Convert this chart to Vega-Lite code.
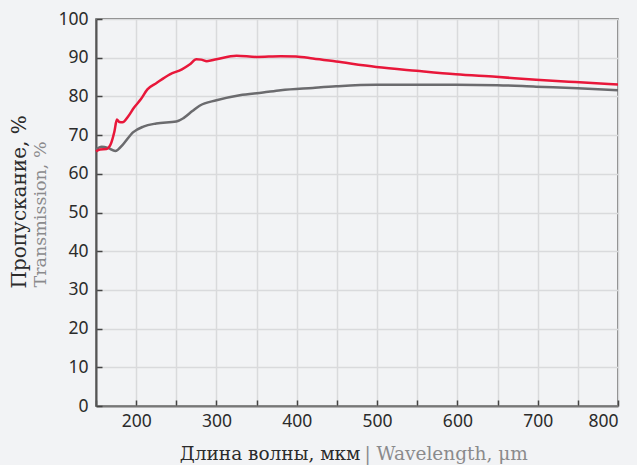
{
  "$schema": "https://vega.github.io/schema/vega-lite/v6.json",
  "width": 522,
  "height": 387,
  "autosize": {"type": "none"},
  "padding": {"left": 96, "top": 19, "right": 19, "bottom": 59},
  "background": "#f2f3f5",
  "config": {
    "view": {"stroke": "#555", "strokeWidth": 1.5},
    "axis": {
      "labelFont": "Noto Sans",
      "labelFontSize": 17.5,
      "labelColor": "#2b2b2b",
      "gridColor": "#d9dadc",
      "gridWidth": 1.5,
      "tickColor": "#444",
      "tickWidth": 1.5,
      "titleFont": "DejaVu Serif",
      "titleFontWeight": "normal"
    }
  },
  "datasets": {
    "red": [
      {"w": 150, "v": 65.8}, {"w": 155, "v": 66.3}, {"w": 163, "v": 66.4}, {"w": 168, "v": 67.5},
      {"w": 173, "v": 71.0}, {"w": 176, "v": 74.0}, {"w": 179, "v": 73.4}, {"w": 183, "v": 73.3},
      {"w": 190, "v": 74.8}, {"w": 197, "v": 77.0}, {"w": 206, "v": 79.3}, {"w": 214, "v": 81.8},
      {"w": 225, "v": 83.4}, {"w": 242, "v": 85.7}, {"w": 257, "v": 87.0}, {"w": 267, "v": 88.3},
      {"w": 275, "v": 89.6}, {"w": 281, "v": 89.5}, {"w": 288, "v": 89.1}, {"w": 300, "v": 89.6},
      {"w": 325, "v": 90.5}, {"w": 350, "v": 90.2}, {"w": 380, "v": 90.4}, {"w": 399, "v": 90.3},
      {"w": 420, "v": 89.8}, {"w": 449, "v": 89.0}, {"w": 499, "v": 87.6}, {"w": 549, "v": 86.6},
      {"w": 598, "v": 85.7}, {"w": 648, "v": 85.05}, {"w": 698, "v": 84.3}, {"w": 747, "v": 83.7},
      {"w": 800, "v": 83.1}
    ],
    "gray": [
      {"w": 150, "v": 66.3}, {"w": 157, "v": 67.0}, {"w": 165, "v": 66.7}, {"w": 174, "v": 65.9},
      {"w": 184, "v": 67.7}, {"w": 196, "v": 70.7}, {"w": 209, "v": 72.2}, {"w": 225, "v": 73.0},
      {"w": 250, "v": 73.5}, {"w": 259, "v": 74.4}, {"w": 270, "v": 76.2}, {"w": 279, "v": 77.6},
      {"w": 300, "v": 79.0}, {"w": 329, "v": 80.3}, {"w": 358, "v": 81.0}, {"w": 380, "v": 81.6},
      {"w": 420, "v": 82.2}, {"w": 449, "v": 82.6}, {"w": 499, "v": 83.0}, {"w": 598, "v": 83.0},
      {"w": 650, "v": 82.9}, {"w": 698, "v": 82.5}, {"w": 750, "v": 82.1}, {"w": 800, "v": 81.6}
    ]
  },
  "resolve": {"axis": {"x": "independent", "y": "independent"}},
  "layer": [
    {
      "data": {"name": "gray"},
      "mark": {"type": "line", "color": "#6b6b6e", "strokeWidth": 2.5, "interpolate": "monotone"},
      "encoding": {
        "x": {
          "field": "w", "type": "quantitative",
          "scale": {"domain": [150, 800], "nice": false, "zero": false},
          "axis": {
            "orient": "bottom",
            "values": [150, 200, 250, 300, 350, 400, 450, 500, 550, 600, 650, 700, 750, 800],
            "labelExpr": "datum.value % 100 === 0 ? datum.label : ''",
            "tickSize": -6,
            "labelPadding": 12,
            "domainColor": "#777",
            "domainWidth": 2,
            "grid": true,
            "title": "Длина волны, мкм",
            "titleFontSize": 18.5,
            "titleColor": "#2b2b2b",
            "titleAlign": "right",
            "titleAnchor": null,
            "titleX": 264,
            "titleY": 53,
            "titleBaseline": "alphabetic"
          }
        },
        "y": {
          "field": "v", "type": "quantitative",
          "scale": {"domain": [0, 100], "nice": false},
          "axis": {
            "orient": "left",
            "values": [0, 10, 20, 30, 40, 50, 60, 70, 80, 90, 100],
            "tickSize": -6,
            "labelPadding": 14,
            "domainColor": "#555",
            "domainWidth": 2,
            "grid": true,
            "title": "Пропускание, %",
            "titleFontSize": 20,
            "titleColor": "#2b2b2b",
            "titleAngle": -90,
            "titleAlign": "left",
            "titleAnchor": null,
            "titleX": -77,
            "titleY": 269,
            "titleBaseline": "middle"
          }
        }
      }
    },
    {
      "data": {"name": "red"},
      "mark": {"type": "line", "color": "#e8173a", "strokeWidth": 2.5, "interpolate": "monotone"},
      "encoding": {
        "x": {
          "field": "w", "type": "quantitative",
          "axis": {
            "orient": "bottom",
            "labels": false,
            "ticks": false,
            "domain": false,
            "grid": false,
            "title": "| Wavelength, μm",
            "titleFontSize": 18.5,
            "titleColor": "#8a8a8c",
            "titleAlign": "left",
            "titleAnchor": null,
            "titleX": 268,
            "titleY": 53,
            "titleBaseline": "alphabetic"
          }
        },
        "y": {
          "field": "v", "type": "quantitative",
          "axis": {
            "orient": "left",
            "labels": false,
            "ticks": false,
            "domain": false,
            "grid": false,
            "title": "Transmission, %",
            "titleFontSize": 17.5,
            "titleColor": "#8a8a8c",
            "titleAngle": -90,
            "titleAlign": "left",
            "titleAnchor": null,
            "titleX": -56,
            "titleY": 268,
            "titleBaseline": "middle"
          }
        }
      }
    }
  ]
}
